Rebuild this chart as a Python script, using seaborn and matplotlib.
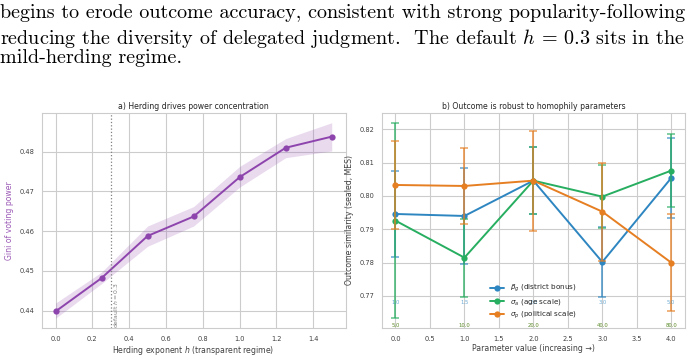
import matplotlib
matplotlib.use('Agg')

import numpy as np
import pandas as pd
import matplotlib.pyplot as plt
import seaborn as sns

# --- dados: painel a) herding ---
h_vals = [0.0, 0.25, 0.5, 0.75, 1.0, 1.25, 1.5]
gini = [0.4398, 0.4482, 0.4588, 0.4637, 0.4736, 0.4810, 0.4838]
gini_lo = [0.4381, 0.4468, 0.4562, 0.4613, 0.4711, 0.4785, 0.4802]
gini_hi = [0.4419, 0.4497, 0.4613, 0.4662, 0.4763, 0.4833, 0.4873]
h_default = 0.3

# --- dados: painel b) homophily ---
param_pos = [0, 1, 2, 3, 4]
beta_mean = [0.7946, 0.7940, 0.8046, 0.7802, 0.8054]
beta_err = [0.0130, 0.0145, 0.0100, 0.0105, 0.0119]
beta_labels = ['1.0', '1.5', '2.0', '3.0', '5.0']
sig_a_mean = [0.7926, 0.7815, 0.8046, 0.7998, 0.8076]
sig_a_err = [0.0292, 0.0117, 0.0100, 0.0095, 0.0109]
sig_a_labels = ['5.0', '10.0', '20.0', '40.0', '80.0']
sig_p_mean = [0.8033, 0.8030, 0.8046, 0.7953, 0.7800]
sig_p_err = [0.0133, 0.0115, 0.0150, 0.0147, 0.0145]
sig_p_labels = ['5.0', '10.0', '20.0', '40.0', '80.0']

paragrafo = [
    "begins to erode outcome accuracy, consistent with strong popularity-following",
    "reducing the diversity of delegated judgment.  The default $h$ = 0.3 sits in the",
    "mild-herding regime.",
]

PURPLE = '#8E44AD'
PURPLE_LIGHT = '#9B59B6'
BLUE = '#2E86C1'
GREEN = '#27AE60'
ORANGE = '#E67E22'

sns.set_style('whitegrid')
plt.rcParams['font.family'] = ['DejaVu Sans']
plt.rcParams['mathtext.fontset'] = 'dejavusans'

fig = plt.figure(figsize=(7.0, 3.56), dpi=100)

# --- texto do artigo no topo ---
for i, linha in enumerate(paragrafo):
    fig.text(0.0, 0.988 - i * 0.0635, linha, ha='left', va='top',
             family='cmr10', fontsize=14.5, color='black',
             math_fontfamily='cm')

ax1 = fig.add_axes([0.0596, 0.0787, 0.434, 0.604])
ax2 = fig.add_axes([0.5453, 0.0787, 0.4333, 0.604])

TITLE_FS = 5.6
LABEL_FS = 5.6
TICK_FS = 4.8

# --- painel a ---
df_a = pd.DataFrame({'h': h_vals, 'gini': gini})
ax1.fill_between(h_vals, gini_lo, gini_hi, color=PURPLE_LIGHT, alpha=0.22, lw=0)
sns.lineplot(data=df_a, x='h', y='gini', ax=ax1, color=PURPLE, marker='o',
             markersize=4.5, markeredgewidth=0, linewidth=1.4)
ax1.axvline(h_default, color='gray', linestyle=':', linewidth=0.9)
ax1.text(h_default + 0.006, 0.4357, 'default $h = 0.3$', rotation=90,
         ha='left', va='bottom', fontsize=4.4, color='gray')
ax1.set_title('a) Herding drives power concentration', fontsize=TITLE_FS, color='.15', pad=3)
ax1.set_xlabel('Herding exponent $h$ (transparent regime)', fontsize=LABEL_FS, color='.25', labelpad=2)
ax1.set_ylabel('Gini of voting power', fontsize=LABEL_FS, color=PURPLE_LIGHT, labelpad=4)
ax1.tick_params(labelsize=TICK_FS, colors='.25', pad=2)

# --- painel b ---
series = [
    (beta_mean, beta_err, BLUE, r'$\beta_g$ (district bonus)'),
    (sig_a_mean, sig_a_err, GREEN, r'$\sigma_a$ (age scale)'),
    (sig_p_mean, sig_p_err, ORANGE, r'$\sigma_p$ (political scale)'),
]
for media, erro, cor, rotulo in series:
    sns.lineplot(x=param_pos, y=media, ax=ax2, color=cor, marker='o', markersize=4.5,
                 markeredgewidth=0, linewidth=1.4, label=rotulo)
    ax2.errorbar(param_pos, media, yerr=erro, fmt='none', ecolor=cor, elinewidth=1.3,
                 capsize=2.8, capthick=1.1, alpha=0.75)

for x, lab in zip(param_pos, beta_labels):
    ax2.text(x, 0.768, lab, ha='center', va='center', fontsize=3.8, color=BLUE, alpha=0.7)
for x, lab in zip(param_pos, sig_p_labels):
    ax2.text(x, 0.761, lab, ha='center', va='center', fontsize=3.8, color=ORANGE, alpha=0.7)
for x, lab in zip(param_pos, sig_a_labels):
    ax2.text(x, 0.761, lab, ha='center', va='center', fontsize=3.8, color=GREEN, alpha=0.7)

ax2.set_ylim(0.7604, 0.8249)
ax2.set_title('b) Outcome is robust to homophily parameters', fontsize=TITLE_FS, color='.15', pad=3)
ax2.set_xlabel('Parameter value (increasing →)', fontsize=LABEL_FS, color='.25', labelpad=2)
ax2.set_ylabel('Outcome similarity (sealed, MES)', fontsize=LABEL_FS, color='.25', labelpad=4)
ax2.tick_params(labelsize=TICK_FS, colors='.25', pad=2)
ax2.legend(loc='lower center', fontsize=5.2, frameon=False, handlelength=2.0,
           labelspacing=0.35, borderaxespad=0.6)

plt.savefig('out.png', dpi=100)
plt.close()
